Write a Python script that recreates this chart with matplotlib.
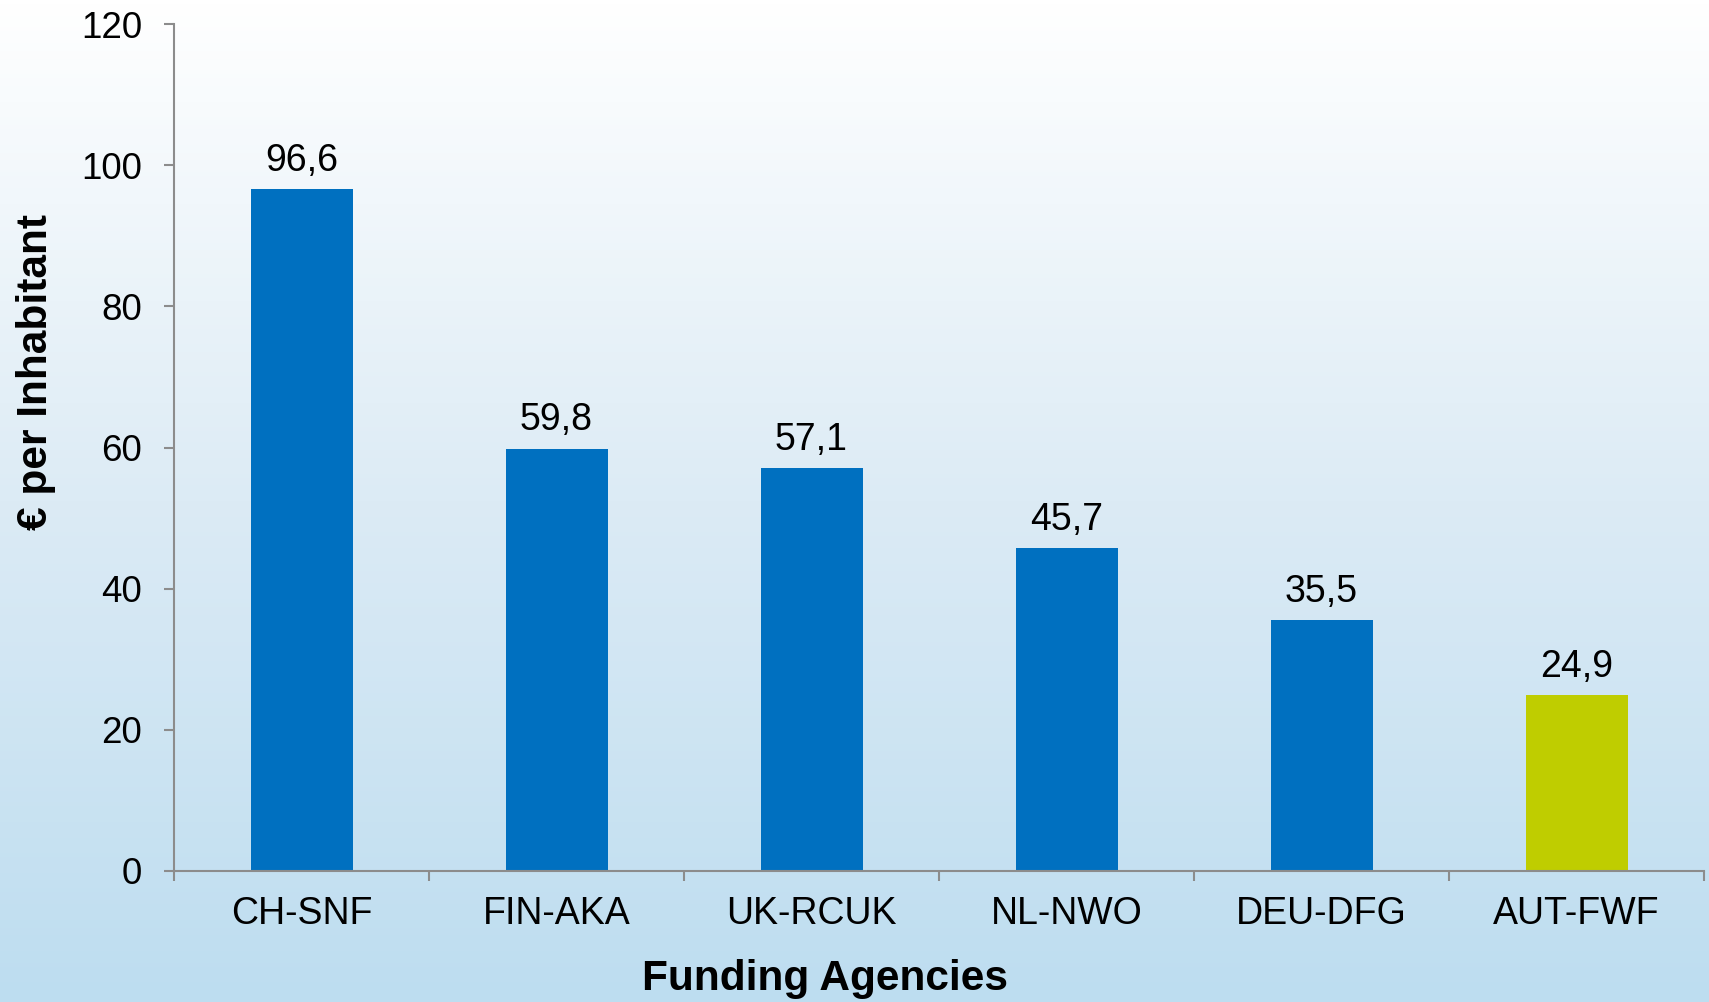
import matplotlib
matplotlib.use("Agg")
import matplotlib.pyplot as plt
import numpy as np
from matplotlib.colors import LinearSegmentedColormap

categories = ["CH-SNF", "FIN-AKA", "UK-RCUK", "NL-NWO", "DEU-DFG", "AUT-FWF"]
values = [96.6, 59.8, 57.1, 45.7, 35.5, 24.9]
value_labels = ["96,6", "59,8", "57,1", "45,7", "35,5", "24,9"]
bar_colors = ["#0070C0", "#0070C0", "#0070C0", "#0070C0", "#0070C0", "#BFCD00"]
yticks = [0, 20, 40, 60, 80, 100, 120]

plt.rcParams['font.family'] = ['Liberation Sans', 'DejaVu Sans']

W, H = 1709, 1002
fig = plt.figure(figsize=(W / 100, H / 100), dpi=100)

# gradient background
bg = fig.add_axes([0, 0, 1, 1], zorder=0)
cmap = LinearSegmentedColormap.from_list("bg", ["#FFFFFF", "#DCEBF5", "#BDDDF0"])
grad = np.linspace(0, 1, 256).reshape(-1, 1)
bg.imshow(grad, aspect="auto", cmap=cmap, extent=[0, 1, 0, 1], origin="upper")
bg.set_axis_off()

ax = fig.add_axes([174 / W, 1 - 871 / H, (1704 - 174) / W, (871 - 24) / H], zorder=1)
ax.patch.set_alpha(0)

x = np.arange(len(categories))
ax.bar(x, values, width=0.4, color=bar_colors, zorder=2)
ax.set_xlim(-0.5, len(categories) - 0.5)
ax.set_ylim(0, 120)
ax.set_yticks(yticks)
ax.set_yticklabels([str(t) for t in yticks], fontsize=26.5)
ax.set_xticks(x)
ax.set_xticklabels(categories, fontsize=27)
ax.set_xticks(np.arange(len(categories) + 1) - 0.5, minor=True)

for xi, v, lab in zip(x, values, value_labels):
    ax.annotate(lab, (xi, v), xytext=(0, 7.5), textcoords="offset points",
                ha="center", va="bottom", fontsize=27, color="black")

gray = "#8C8C8C"
for s in ["top", "right"]:
    ax.spines[s].set_visible(False)
for s in ["left", "bottom"]:
    ax.spines[s].set_color(gray)
    ax.spines[s].set_linewidth(1.5)
ax.tick_params(axis="y", direction="out", length=7, width=1.5, color=gray, pad=16)
ax.tick_params(axis="x", which="major", length=0, pad=18)
ax.tick_params(axis="x", which="minor", direction="out", length=7, width=1.5, color=gray)

fig.text(825 / W, 1 - 979 / H, "Funding Agencies", ha="center", va="center",
         fontsize=30.5, fontweight="bold")
fig.text(36 / W, 1 - 372 / H, "€ per Inhabitant", ha="center", va="center",
         rotation=90, fontsize=30.5, fontweight="bold")

fig.savefig("out.png", dpi=100)
